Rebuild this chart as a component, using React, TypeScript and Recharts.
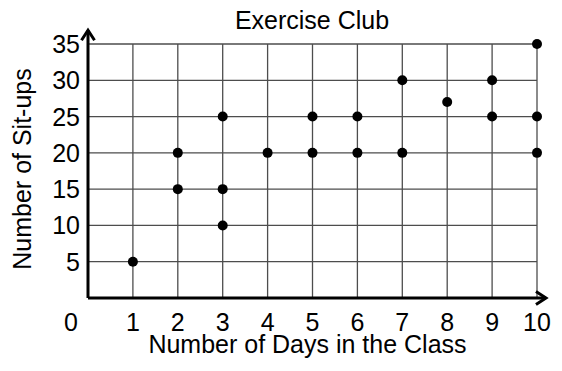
import { ScatterChart, Scatter, XAxis, YAxis, CartesianGrid, ReferenceLine } from "recharts"

const days = [1, 2, 2, 3, 3, 3, 4, 5, 5, 6, 6, 7, 7, 8, 9, 9, 10, 10, 10]
const situps = [5, 20, 15, 25, 15, 10, 20, 25, 20, 25, 20, 30, 20, 27, 30, 25, 35, 25, 20]
const xTicks = [0, 1, 2, 3, 4, 5, 6, 7, 8, 9, 10]
const yTicks = [5, 10, 15, 20, 25, 30, 35]

const data = days.map((d, i) => ({ day: d, situps: situps[i] }))

const FONT = "'Liberation Sans', Arial, sans-serif"

const Arrow = (props: any) => {
  const { x1, y1, x2, y2 } = props
  const len = Math.hypot(x2 - x1, y2 - y1) || 1
  const ux = (x2 - x1) / len
  const uy = (y2 - y1) / len
  const back = 10
  const half = 6.5
  const bx = x2 - ux * back
  const by = y2 - uy * back
  return (
    <g stroke="#000" strokeWidth={3} fill="none">
      <line x1={x1} y1={y1} x2={x2} y2={y2} />
      <polyline
        points={`${bx - uy * half},${by + ux * half} ${x2},${y2} ${bx + uy * half},${by - ux * half}`}
        strokeLinejoin="miter"
      />
    </g>
  )
}

const XTick = (props: any) => {
  const { x, y, payload } = props
  const shift = payload.value === 0 ? -17 : 0
  return (
    <text x={x + shift} y={y + 33} textAnchor="middle" fontSize={25} fontFamily={FONT} fill="#000">
      {payload.value}
    </text>
  )
}

const YTick = (props: any) => {
  const { x, y, payload } = props
  return (
    <text x={x - 8} y={y + 9} textAnchor="end" fontSize={25} fontFamily={FONT} fill="#000">
      {payload.value}
    </text>
  )
}

const Dot = (props: any) => <circle cx={props.cx} cy={props.cy} r={5} fill="#000" />

export default function App() {
  return (
    <div style={{ position: "absolute", left: 0, top: 0, width: 562, height: 371, background: "#fff" }}>
      <div
        style={{
          position: "absolute",
          left: 0,
          width: 624,
          top: 8,
          textAlign: "center",
          fontFamily: FONT,
          fontSize: 25,
          lineHeight: "25px",
          color: "#000",
        }}
      >
        Exercise Club
      </div>
      <ScatterChart width={562} height={371} margin={{ top: 44, right: 25, bottom: 0, left: 0 }}>
        <CartesianGrid stroke="#4d4d4d" strokeWidth={1.3} />
        <XAxis
          type="number"
          dataKey="day"
          domain={[0, 10]}
          ticks={xTicks}
          interval={0}
          height={73}
          axisLine={false}
          tickLine={false}
          tickSize={0}
          tickMargin={0}
          tick={<XTick />}
          label={(p: any) => {
            const vb = p.viewBox
            return (
              <text
                x={vb.x + vb.width / 2 - 5}
                y={vb.y + 55}
                textAnchor="middle"
                fontSize={25}
                fontFamily={FONT}
                fill="#000"
              >
                Number of Days in the Class
              </text>
            )
          }}
        />
        <YAxis
          type="number"
          dataKey="situps"
          domain={[0, 35]}
          ticks={yTicks}
          interval={0}
          width={88}
          axisLine={false}
          tickLine={false}
          tickSize={0}
          tickMargin={0}
          tick={<YTick />}
          label={(p: any) => {
            const vb = p.viewBox
            const cx = 31
            const cy = vb.y + vb.height / 2 - 2
            return (
              <text
                x={cx}
                y={cy}
                transform={`rotate(-90, ${cx}, ${cy})`}
                textAnchor="middle"
                fontSize={25}
                fontFamily={FONT}
                fill="#000"
              >
                Number of Sit-ups
              </text>
            )
          }}
        />
        <ReferenceLine
          segment={[{ x: 0, y: 0 }, { x: 10.2, y: 0 }]}
          ifOverflow="visible"
          shape={<Arrow />}
        />
        <ReferenceLine
          segment={[{ x: 0, y: 0 }, { x: 0, y: 36.9 }]}
          ifOverflow="visible"
          shape={<Arrow />}
        />
        <Scatter data={data} shape={<Dot />} isAnimationActive={false} />
      </ScatterChart>
    </div>
  )
}
